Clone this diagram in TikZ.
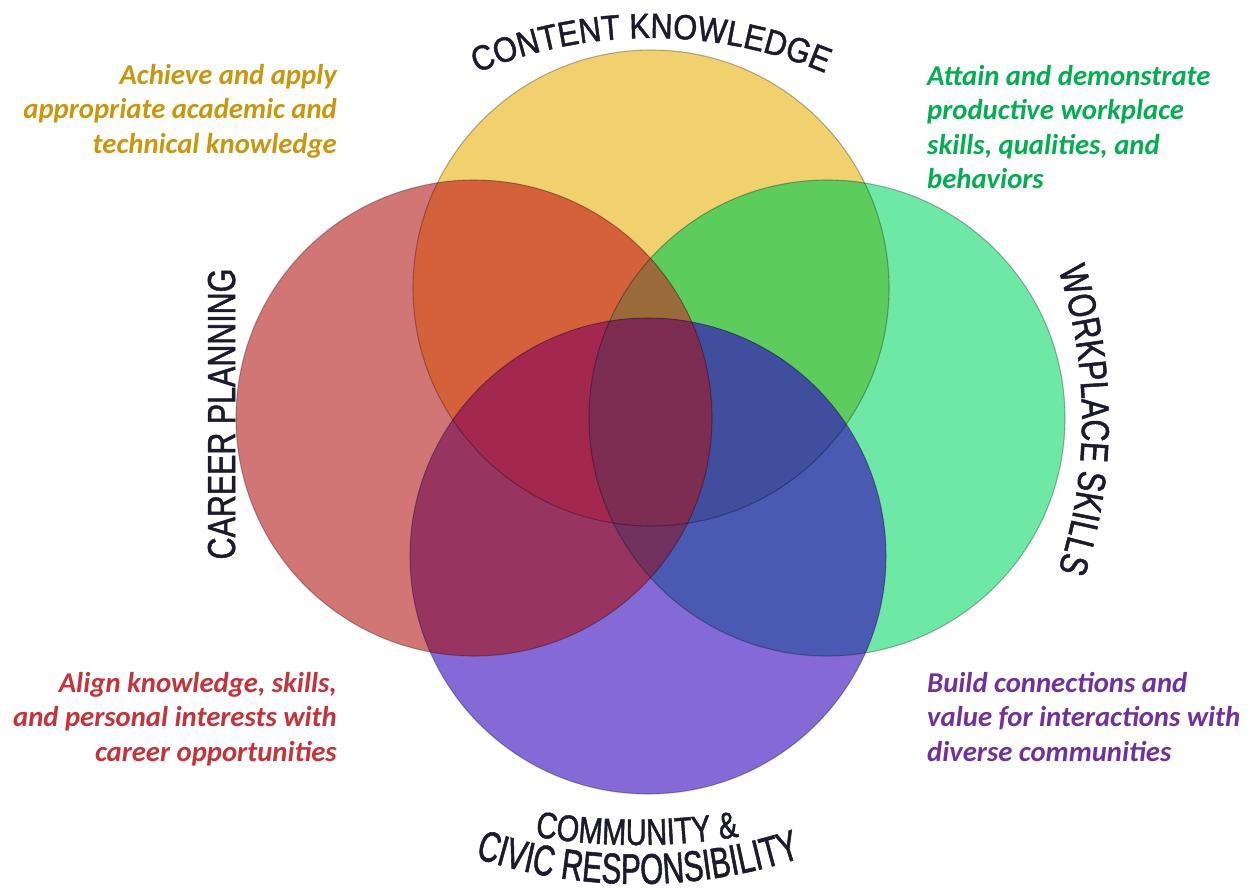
\documentclass[tikz,border=0pt]{standalone}
\usepackage{fontspec}
\setmainfont{Carlito}
\newfontfamily\hfA{Liberation Sans}[FakeStretch=0.88,FakeBold=1.3]
\newfontfamily\hfB{Liberation Sans}[FakeStretch=0.78,FakeBold=1.3]
\newfontfamily\hfC{Liberation Sans}[FakeStretch=0.69,FakeBold=1.3]
\usetikzlibrary{calc,decorations.text}
\definecolor{cY}{HTML}{F0D16E}
\definecolor{cR}{HTML}{D27575}
\definecolor{cG}{HTML}{6DE8A5}
\definecolor{cP}{HTML}{846AD7}
\definecolor{cYR}{HTML}{D5613B}
\definecolor{cYG}{HTML}{5CCD5D}
\definecolor{cYP}{HTML}{8A4A6A}
\definecolor{cRG}{HTML}{8A5A50}
\definecolor{cRP}{HTML}{97345F}
\definecolor{cGP}{HTML}{4A59B1}
\definecolor{cYRG}{HTML}{9A6A3A}
\definecolor{cYRP}{HTML}{A2284F}
\definecolor{cYGP}{HTML}{3F4F9E}
\definecolor{cRGP}{HTML}{71325F}
\definecolor{cALL}{HTML}{7D2D52}
\definecolor{tYel}{HTML}{C9960C}
\definecolor{tGrn}{HTML}{00B050}
\definecolor{tRed}{HTML}{C8313A}
\definecolor{tPur}{HTML}{7030A0}
\definecolor{hd}{HTML}{1B1B2B}
\newcommand\rr{238}
\newcommand\myPair[3]{\begin{scope}\clip (#1) circle[radius=\rr];\fill[#3] (#2) circle[radius=\rr];\end{scope}}
\newcommand\myTri[4]{\begin{scope}\clip (#1) circle[radius=\rr];\clip (#2) circle[radius=\rr];\fill[#4] (#3) circle[radius=\rr];\end{scope}}
\tikzset{
  body/.style={font=\bfseries\itshape\fontsize{28.7}{34.5}\selectfont, inner sep=0pt},
  rim/.style={draw=black, draw opacity=0.28, line width=1.1pt},
  heading/.style={font=\hfB\fontsize{39}{39}\selectfont, text=hd, inner sep=0pt}
}
\begin{document}
\begin{tikzpicture}[x=1pt,y=1pt]
\useasboundingbox (0,0) rectangle (1247,-892);
\coordinate (Yc) at (651,-288);
\coordinate (Rc) at (474,-418);
\coordinate (Gc) at (827,-418);
\coordinate (Pc) at (648,-556);
% base circles
\fill[cY] (Yc) circle[radius=\rr];
\fill[cR] (Rc) circle[radius=\rr];
\fill[cG] (Gc) circle[radius=\rr];
\fill[cP] (Pc) circle[radius=\rr];
% pairs
\myPair{Yc}{Rc}{cYR}
\myPair{Yc}{Gc}{cYG}
\myPair{Yc}{Pc}{cYP}
\myPair{Rc}{Gc}{cRG}
\myPair{Rc}{Pc}{cRP}
\myPair{Gc}{Pc}{cGP}
% triples
\myTri{Yc}{Rc}{Gc}{cYRG}
\myTri{Yc}{Rc}{Pc}{cYRP}
\myTri{Yc}{Gc}{Pc}{cYGP}
\myTri{Rc}{Gc}{Pc}{cRGP}
% all four
\begin{scope}
\clip (Yc) circle[radius=\rr];
\clip (Rc) circle[radius=\rr];
\clip (Gc) circle[radius=\rr];
\fill[cALL] (Pc) circle[radius=\rr];
\end{scope}
% rims
\draw[rim] (Yc) circle[radius=\rr];
\draw[rim] (Rc) circle[radius=\rr];
\draw[rim] (Gc) circle[radius=\rr];
\draw[rim] (Pc) circle[radius=\rr];
% headings
\coordinate (Kc) at (651,-488);
\coordinate (Ks) at ($(Kc)+(125:450)$);
\path[decorate, decoration={text along path, text align=center, text color=hd,
  text={|\hfA\fontsize{35}{35}\selectfont|CONTENT KNOWLEDGE}}]
  (Ks) arc[start angle=125, end angle=55, radius=450];
\node[heading, rotate=90, anchor=base] (cp) at (235,-414) {CAREER PLANNING};
\coordinate (Wc) at (593,-420);
\coordinate (Ws) at ($(Wc)+(24:489)$);
\path[decorate, decoration={text along path, text align=center, text color=hd,
  text={|\hfB\fontsize{39}{39}\selectfont|WORKPLACE SKILLS}}]
  (Ws) arc[start angle=24, end angle=-24, radius=489];
\coordinate (C1c) at (637,-229);
\coordinate (C1s) at ($(C1c)+(-108:616)$);
\path[decorate, decoration={text along path, text align=center, text color=hd,
  text={|\hfB\fontsize{37}{37}\selectfont|COMMUNITY {\&}}}]
  (C1s) arc[start angle=-108, end angle=-72, radius=616];
\coordinate (C2c) at (638,-365);
\coordinate (C2s) at ($(C2c)+(-124:519)$);
\path[decorate, decoration={text along path, text align=center, text color=hd,
  text={|\hfC\fontsize{43}{43}\selectfont|CIVIC RESPONSIBILITY}}]
  (C2s) arc[start angle=-124, end angle=-56, radius=519];
% descriptions
\node[body, text=tYel, align=right, anchor=north east] (tY) at (337,-64)
  {Achieve and apply\\appropriate academic and\\technical knowledge};
\node[body, text=tGrn, align=left, anchor=north west] (tG) at (927,-65)
  {Attain and demonstrate\\productive workplace\\skills, qualities, and\\behaviors};
\node[body, text=tRed, align=right, anchor=north east] (tR) at (337,-672)
  {Align knowledge, skills,\\and personal interests with\\career opportunities};
\node[body, text=tPur, align=left, anchor=north west] (tP) at (927,-672)
  {Build connections and\\value for interactions with\\diverse communities};
\end{tikzpicture}
\end{document}
